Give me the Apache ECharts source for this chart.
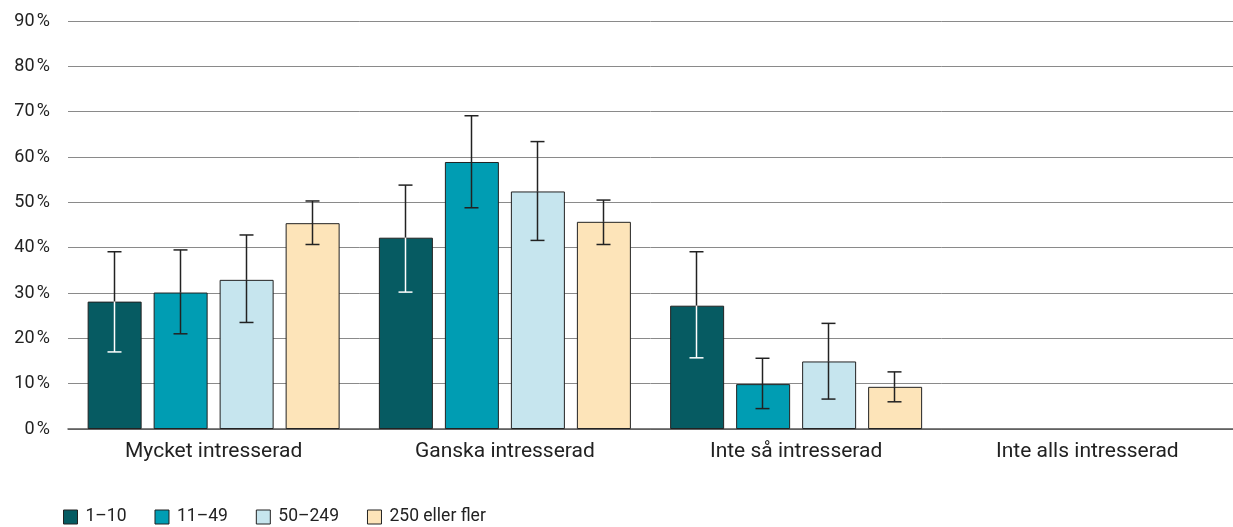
<!DOCTYPE html>
<html>
<head>
<meta charset="utf-8">
<script src="https://cdn.jsdelivr.net/npm/echarts@6/dist/echarts.min.js"></script>
<style>
html,body{margin:0;padding:0;background:#fff;}
#chart{width:1233px;height:527px;}
</style>
</head>
<body>
<div id="chart"></div>
<script>
const categories = ['Mycket intresserad', 'Ganska intresserad', 'Inte så intresserad', 'Inte alls intresserad'];
const seriesNames = ['1–10', '11–49', '50–249', '250 eller fler'];
const colors = ['#065b62', '#009db3', '#c6e5ee', '#fde4b9'];

const values_1_10   = [28.1, 42.2, 27.2, null];
const values_11_49  = [30.1, 58.9, 9.9, null];
const values_50_249 = [32.9, 52.4, 14.9, null];
const values_250    = [45.4, 45.7, 9.3, null];

const low_1_10   = [17.0, 30.2, 15.7, null];
const high_1_10  = [39.1, 53.8, 39.1, null];
const low_11_49  = [21.0, 48.8, 4.5, null];
const high_11_49 = [39.5, 69.1, 15.6, null];
const low_50_249 = [23.5, 41.6, 6.6, null];
const high_50_249= [42.8, 63.4, 23.3, null];
const low_250    = [40.7, 40.7, 6.0, null];
const high_250   = [50.3, 50.5, 12.6, null];

const yTicks = [0, 10, 20, 30, 40, 50, 60, 70, 80, 90];

const allValues = [values_1_10, values_11_49, values_50_249, values_250];
const allLow = [low_1_10, low_11_49, low_50_249, low_250];
const allHigh = [high_1_10, high_11_49, high_50_249, high_250];

const BAR_W = 54, BAR_GAP = 12;

const chart = echarts.init(document.getElementById('chart'), null, {renderer: 'canvas'});

const series = [];
allValues.forEach((vals, i) => {
  series.push({
    name: seriesNames[i],
    type: 'bar',
    data: vals,
    barWidth: BAR_W,
    barGap: (BAR_GAP / BAR_W * 100) + '%',
    itemStyle: {color: colors[i], borderColor: '#222', borderWidth: 1},
    emphasis: {disabled: true},
    z: 2
  });
});
allValues.forEach((vals, i) => {
  const data = [];
  vals.forEach((v, c) => {
    if (v != null) data.push([c, allLow[i][c], allHigh[i][c], v]);
  });
  series.push({
    type: 'custom',
    name: seriesNames[i] + '_err',
    z: 5,
    silent: true,
    encode: {x: 0, y: [1, 2]},
    data: data,
    renderItem: function (params, api) {
      const c = api.value(0);
      const off = (i - 1.5) * (BAR_W + BAR_GAP) - 1;
      const pLow = api.coord([c, api.value(1)]);
      const pHigh = api.coord([c, api.value(2)]);
      const pVal = api.coord([c, api.value(3)]);
      const x = Math.round(pLow[0] + off) + 0.5;
      const cap = 7;
      const innerColor = i === 0 ? '#ffffff' : '#222222';
      const lw = 1.5;
      return {
        type: 'group',
        children: [
          {type: 'line', shape: {x1: x, y1: pHigh[1], x2: x, y2: pVal[1]}, style: {stroke: '#222', lineWidth: lw}},
          {type: 'line', shape: {x1: x, y1: pVal[1], x2: x, y2: pLow[1]}, style: {stroke: innerColor, lineWidth: lw}},
          {type: 'line', shape: {x1: x - cap, y1: pHigh[1], x2: x + cap, y2: pHigh[1]}, style: {stroke: '#222', lineWidth: lw}},
          {type: 'line', shape: {x1: x - cap, y1: pLow[1], x2: x + cap, y2: pLow[1]}, style: {stroke: innerColor, lineWidth: lw}}
        ]
      };
    }
  });
});

chart.setOption({
  animation: false,
  backgroundColor: '#fff',
  grid: {left: 68, right: 0, top: 21, bottom: 98, containLabel: false},
  legend: {
    data: seriesNames,
    left: 58,
    bottom: -4,
    itemWidth: 14,
    itemHeight: 14,
    itemGap: 28,
    icon: 'rect',
    itemStyle: {borderColor: '#222', borderWidth: 1},
    textStyle: {fontFamily: 'Roboto', fontSize: 17.5, color: '#222', padding: [0, 0, 0, 3]}
  },
  xAxis: {
    type: 'category',
    data: categories,
    axisLine: {show: true, lineStyle: {color: '#555', width: 1.5}},
    axisTick: {show: false},
    axisLabel: {fontFamily: 'Roboto', fontSize: 21, color: '#222', margin: 12}
  },
  yAxis: {
    type: 'value',
    min: yTicks[0],
    max: yTicks[yTicks.length - 1],
    interval: 10,
    axisLine: {show: false},
    axisTick: {show: false},
    splitLine: {lineStyle: {color: '#8a8a8a', width: 1}},
    axisLabel: {
      fontFamily: 'Roboto', fontSize: 18, color: '#222', margin: 18,
      formatter: v => v + '\u202f%'
    }
  },
  series: series
});
</script>
</body>
</html>
